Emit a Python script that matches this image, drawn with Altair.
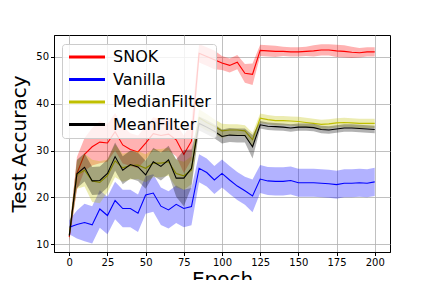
import altair as alt
import pandas as pd

epochs = list(range(0, 201, 5))

snok_mean = [11.5, 25.1, 29.2, 30.8, 31.8, 31.6, 34.0, 31.2, 30.2, 29.7, 31.6, 33.6, 33.2, 33.5, 32.3, 29.2, 32.0,
             50.8, 50.1, 49.4, 48.7, 48.2, 48.9, 46.5, 46.3, 51.4, 51.3, 51.2, 51.2, 51.1, 51.1, 51.2, 51.3, 51.5,
             51.5, 51.3, 51.2, 51.0, 50.9, 51.1, 51.1]
snok_std = [1.0, 3.5, 3.5, 4.0, 4.5, 4.0, 4.0, 4.0, 3.5, 3.5, 3.5, 3.5, 3.5, 3.5, 3.5, 4.0, 4.0,
            2.0, 2.0, 2.0, 1.5, 1.5, 1.5, 2.0, 2.3, 1.2, 1.2, 1.2, 1.0, 1.0, 1.0, 1.0, 1.2, 1.2,
            1.2, 1.3, 1.3, 1.2, 1.0, 1.0, 1.0]

vanilla_mean = [13.6, 14.2, 14.6, 14.1, 17.5, 16.1, 19.3, 17.6, 17.6, 16.6, 20.5, 20.9, 18.1, 17.3, 18.5, 17.6, 18.0,
                26.2, 25.3, 23.7, 25.1, 23.7, 22.4, 21.4, 20.3, 23.9, 23.5, 23.4, 23.4, 23.6, 23.1, 23.1, 23.1, 23.0,
                22.9, 22.7, 23.0, 23.0, 23.1, 23.0, 23.3]
vanilla_std = [1.5, 3.0, 4.0, 4.0, 4.0, 4.0, 4.0, 4.0, 4.0, 4.0, 4.0, 4.0, 4.0, 4.0, 4.0, 4.0, 4.0,
               3.0, 3.0, 3.0, 3.0, 3.0, 3.0, 3.0, 3.5, 3.0, 3.0, 3.0, 3.0, 3.0, 3.0, 3.0, 3.0, 3.0,
               3.0, 3.0, 3.0, 3.0, 3.0, 3.0, 3.0]

median_mean = [12.0, 24.8, 25.8, 23.5, 23.2, 24.6, 27.8, 26.3, 26.8, 26.9, 26.2, 27.3, 27.3, 27.6, 25.1, 24.6, 25.8,
               37.0, 36.0, 35.2, 34.2, 34.4, 34.4, 34.2, 32.3, 36.9, 36.6, 36.4, 36.4, 36.3, 36.2, 36.0, 35.8, 35.6,
               35.7, 35.9, 36.0, 35.9, 35.8, 35.8, 35.8]
median_std = [1.0, 3.0, 3.5, 4.5, 4.5, 3.5, 3.5, 3.0, 3.0, 3.0, 3.0, 3.0, 3.0, 3.0, 3.0, 3.0, 3.0,
              1.8, 1.8, 1.5, 1.5, 1.2, 1.2, 1.2, 1.5, 1.0, 1.0, 1.0, 1.0, 1.0, 1.0, 1.0, 1.0, 1.0,
              1.0, 1.0, 1.0, 1.0, 1.0, 1.0, 1.0]

mean_mean = [11.8, 25.0, 26.4, 23.5, 23.6, 25.1, 28.7, 25.8, 27.0, 26.5, 24.8, 27.6, 26.6, 28.0, 24.1, 24.1, 26.2,
             35.8, 35.0, 34.1, 33.0, 33.3, 33.2, 33.2, 30.8, 35.5, 35.2, 35.1, 35.0, 34.8, 35.0, 35.0, 34.9, 34.5,
             34.4, 34.6, 34.8, 34.8, 34.7, 34.6, 34.5]
mean_std = [1.0, 3.0, 3.0, 3.0, 3.0, 3.0, 3.0, 3.0, 3.0, 3.0, 3.0, 3.0, 3.0, 3.0, 4.0, 6.0, 4.0,
            1.5, 1.5, 1.5, 1.5, 1.5, 1.5, 1.5, 2.5, 0.8, 0.8, 0.8, 0.8, 0.8, 0.8, 0.8, 0.8, 0.8,
            0.8, 0.8, 0.8, 0.8, 0.8, 0.8, 0.8]

names = ["SNOK", "Vanilla", "MedianFilter", "MeanFilter"]
colors = ["#ff0000", "#0000ff", "#bfbf00", "#000000"]
band_colors = ["#ff0000", "#0000ff", "#bfbf00", "#000000"]
x_ticks = [0, 25, 50, 75, 100, 125, 150, 175, 200]
y_ticks = [10, 20, 30, 40, 50]

series = {
    "SNOK": (snok_mean, snok_std),
    "Vanilla": (vanilla_mean, vanilla_std),
    "MedianFilter": (median_mean, median_std),
    "MeanFilter": (mean_mean, mean_std),
}

rows = []
for name, (m, s) in series.items():
    for e, mv, sv in zip(epochs, m, s):
        rows.append({"epoch": e, "series": name, "mean": mv, "lo": mv - sv, "hi": mv + sv})
df = pd.DataFrame(rows)

xscale = alt.Scale(domain=[-10, 210], nice=False, zero=False)
yscale = alt.Scale(domain=[8.3, 54.7], nice=False, zero=False)
xaxis = alt.Axis(values=x_ticks, title="Epoch", titlePadding=2)
yaxis = alt.Axis(values=y_ticks, title="Test Accuracy", titlePadding=6)

legend = alt.Legend(
    title=None, orient="none", legendX=8, legendY=9,
    symbolType="M-1,0H5", symbolSize=144, symbolStrokeWidth=3,
    labelFontSize=16, labelFont="DejaVu Sans", labelColor="black",
    labelOffset=30, rowPadding=6.5, padding=5,
    fillColor="rgba(255,255,255,0.8)", strokeColor="#cccccc", cornerRadius=3,
)
cscale = alt.Scale(domain=names, range=colors)

base = alt.Chart(df)
layers = []
for name, bc in zip(names, band_colors):
    sub = base.transform_filter(alt.datum.series == name)
    area = sub.mark_area(opacity=0.3, color=bc).encode(
        x=alt.X("epoch:Q", scale=xscale, axis=xaxis),
        y=alt.Y("lo:Q", scale=yscale, axis=yaxis),
        y2="hi:Q",
    )
    line = sub.mark_line(strokeWidth=1.1).encode(
        x=alt.X("epoch:Q", scale=xscale, axis=xaxis),
        y=alt.Y("mean:Q", scale=yscale, axis=yaxis),
        color=alt.Color("series:N", scale=cscale, legend=legend),
    )
    layers += [area, line]

chart = alt.layer(*layers).properties(
    width=336, height=217,
    autosize=alt.AutoSizeParams(type="none"),
    padding={"left": 46, "top": 27, "right": 30, "bottom": 28},
).configure_view(
    stroke="black", strokeWidth=1
).configure_axis(
    labelFont="DejaVu Sans", labelFontSize=10, labelColor="black",
    titleFont="DejaVu Sans", titleFontSize=20, titleFontWeight="normal", titleColor="black",
    tickColor="black", tickSize=3.5, labelPadding=2,
    domainColor="black", gridColor="#b0b0b0", gridWidth=0.8,
)

chart.save("out.html", embed_options={"renderer": "svg", "actions": False})
